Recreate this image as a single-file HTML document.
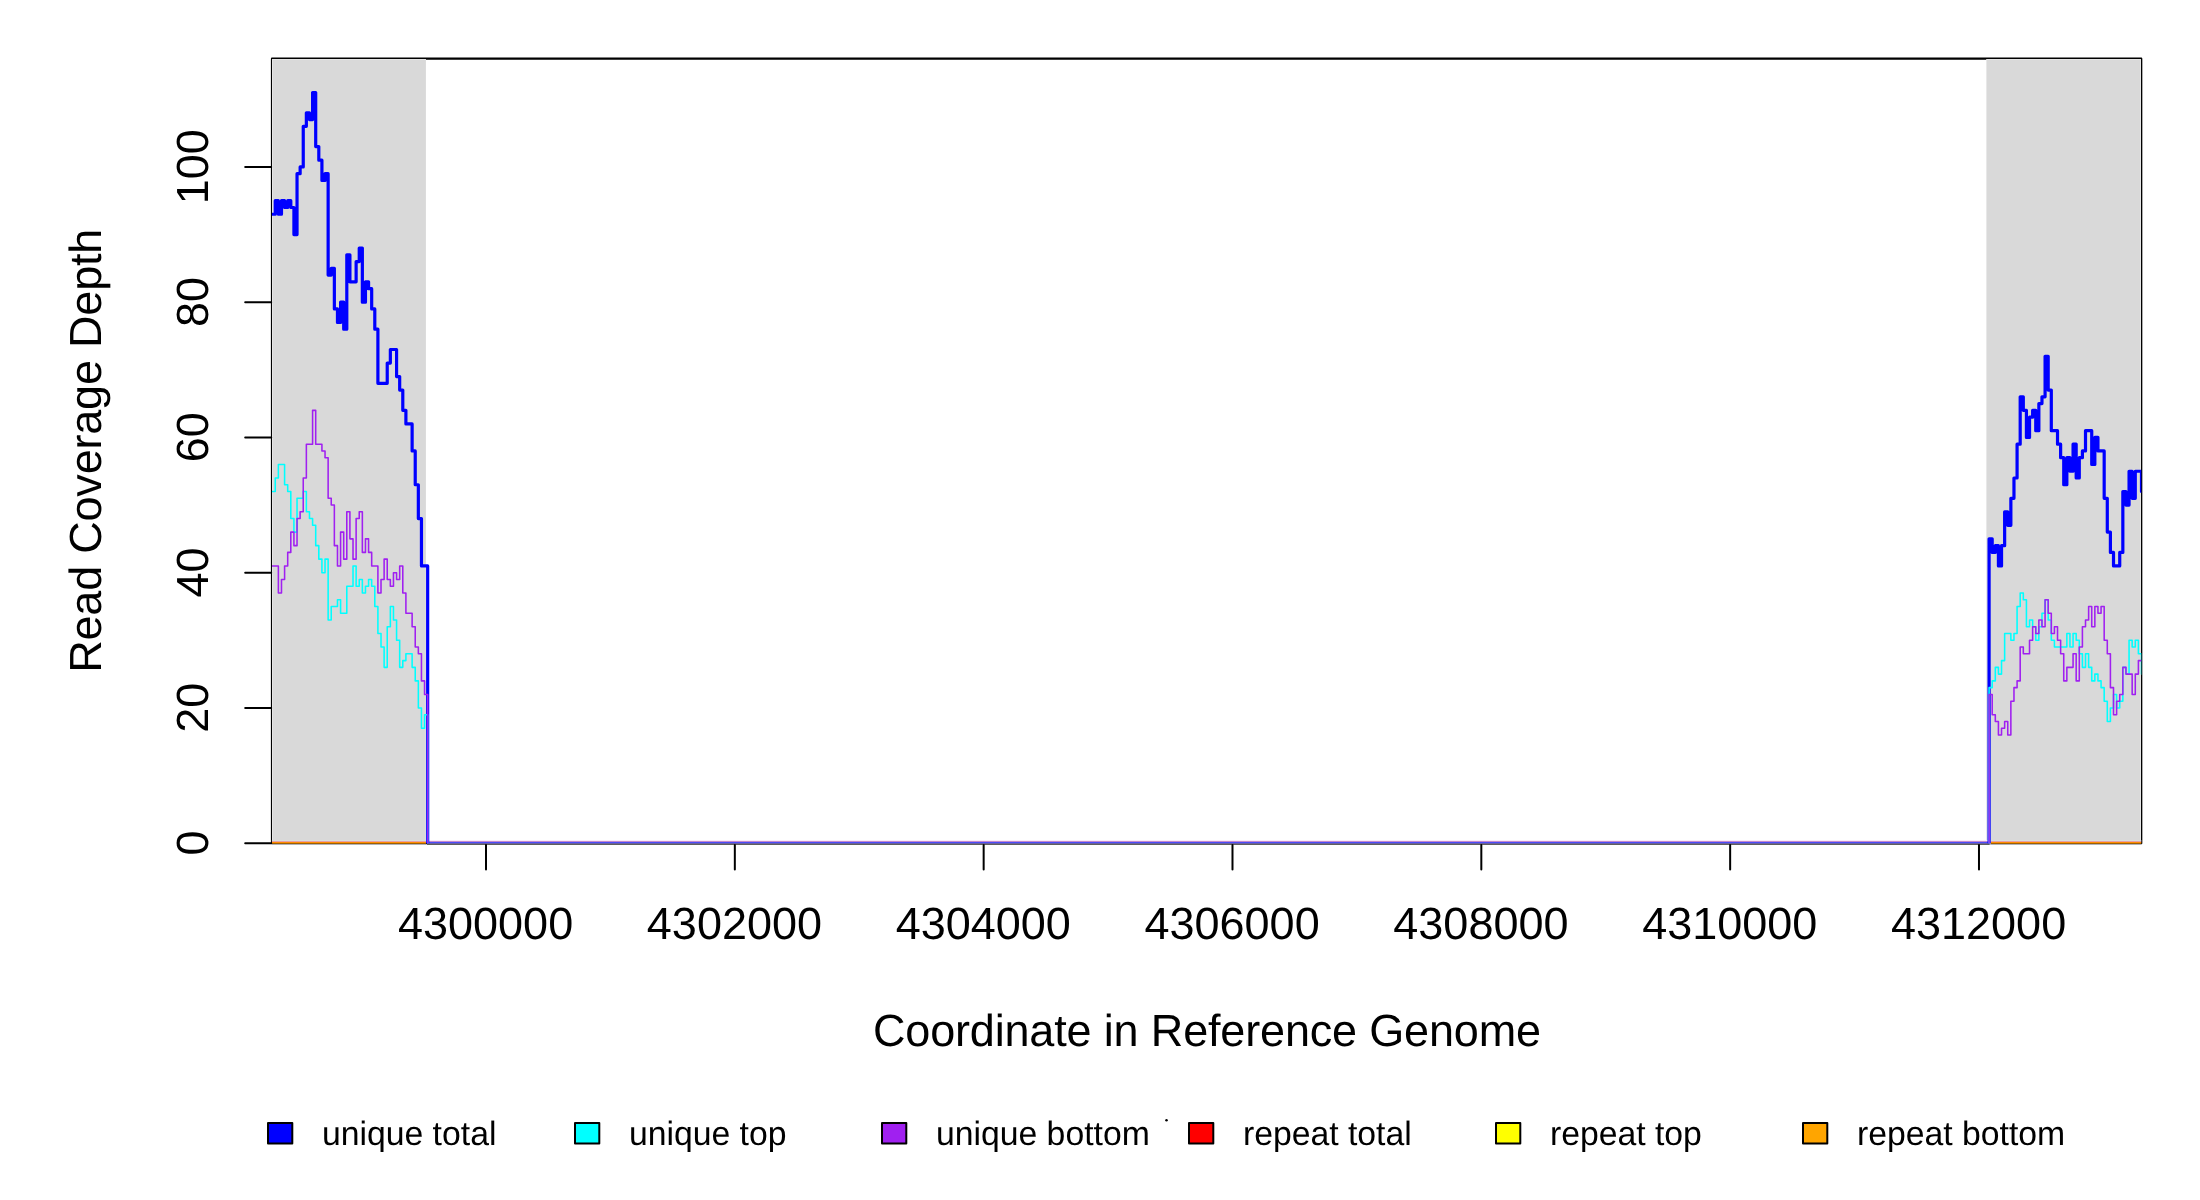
<!DOCTYPE html>
<html><head><meta charset="utf-8"><title>Read coverage</title>
<style>
html,body{margin:0;padding:0;background:#fff;}
body{width:2200px;height:1200px;overflow:hidden;}
svg{display:block;will-change:transform;}
text{font-family:"Liberation Sans",sans-serif;fill:#000;text-rendering:geometricPrecision;}
</style></head><body>
<svg width="2200" height="1200" viewBox="0 0 2200 1200">
<rect x="0" y="0" width="2200" height="1200" fill="#fff"/>
<rect x="271.95" y="58.65" width="1869.33" height="784.55" fill="none" stroke="#000" stroke-width="2.1" stroke-linejoin="round"/>
<rect x="272" y="59" width="153.9" height="785.4" fill="#D9D9D9"/>
<rect x="1986.4" y="59" width="154.6" height="785.4" fill="#D9D9D9"/>
<rect x="272" y="59" width="1" height="784" fill="#E5E5E5"/>
<rect x="2140" y="59" width="1" height="784" fill="#E5E5E5"/>
<rect x="272" y="59" width="153.9" height="1" fill="#E4E4E4"/>
<rect x="1986.4" y="59" width="154.6" height="1" fill="#E4E4E4"/>
<clipPath id="pc"><rect x="271.95" y="58.65" width="1869.33" height="784.55"/></clipPath>
<rect x="271.9" y="840" width="154.2" height="1" fill="rgb(215,222,222)"/>
<rect x="271.9" y="841" width="154.2" height="1" fill="rgb(230,160,165)"/>
<rect x="271.9" y="842" width="154.2" height="1" fill="rgb(255,140,0)"/>
<rect x="271.9" y="843" width="154.2" height="1" fill="rgb(160,95,0)"/>
<rect x="271.9" y="844" width="154.2" height="1" fill="rgb(175,178,185)"/>
<rect x="1990.6" y="840" width="150.7" height="1" fill="rgb(215,222,222)"/>
<rect x="1990.6" y="841" width="150.7" height="1" fill="rgb(230,160,165)"/>
<rect x="1990.6" y="842" width="150.7" height="1" fill="rgb(255,140,0)"/>
<rect x="1990.6" y="843" width="150.7" height="1" fill="rgb(160,95,0)"/>
<rect x="1990.6" y="844" width="150.7" height="1" fill="rgb(175,178,185)"/>
<rect x="427.0" y="840" width="1562.6" height="1" fill="rgb(250,236,248)"/>
<rect x="427.0" y="841" width="1562.6" height="1" fill="rgb(195,135,205)"/>
<rect x="427.0" y="842" width="1562.6" height="1" fill="rgb(75,75,248)"/>
<rect x="427.0" y="843" width="1562.6" height="1" fill="rgb(105,95,160)"/>
<rect x="427.0" y="844" width="1562.6" height="1" fill="rgb(95,95,92)"/>
<g clip-path="url(#pc)" fill="none" stroke-linejoin="round" stroke-linecap="round">
<path d="M272.15 214.24H275.26V200.72H278.37V214.24H281.48V200.72H284.59V207.48H287.70V200.72H290.81V207.48H293.92V234.53H297.03V173.66H300.14V166.90H303.25V126.32H306.36V112.80H309.47V119.56H312.59V92.51H315.70V146.61H318.81V160.14H321.92V180.43H325.03V173.66H328.14V275.11H331.25V268.35H334.36V308.92H337.47V322.45H340.58V302.16H343.69V329.21H346.80V254.82H349.91V281.87H353.02H356.13V261.58H359.24V248.06H362.35V302.16H365.46V281.87H368.57V288.63H371.68V308.92H374.79V329.21H377.90V383.32H381.01H384.12H387.23V363.03H390.35V349.50H393.46H396.57V376.55H399.68V390.08H402.79V410.37H405.90V423.89H409.01H412.12V450.95H415.23V484.76H418.34V518.58H421.45V565.92H424.56H427.67V845.20M1989.09 845.20V538.87H1992.20V552.39H1995.31V545.63H1998.42V565.92H2001.53V545.63H2004.64V511.81H2007.75V525.34H2010.86V498.29H2013.97V478.00H2017.08V444.18H2020.19V396.84H2023.31V410.37H2026.42V437.42H2029.53V417.13H2032.64V410.37H2035.75V430.66H2038.86V403.61H2041.97V396.84H2045.08V356.26H2048.19V390.08H2051.30V430.66H2054.41H2057.52V444.18H2060.63V457.71H2063.74V484.76H2066.85V457.71H2069.96V471.24H2073.07V444.18H2076.18V478.00H2079.29V457.71H2082.40V450.95H2085.51V430.66H2088.62H2091.73V464.47H2094.84V437.42H2097.95V450.95H2101.07H2104.18V498.29H2107.29V532.10H2110.40V552.39H2113.51V565.92H2116.62H2119.73V552.39H2122.84V491.52H2125.95V505.05H2129.06V471.24H2132.17V498.29H2135.28V471.24H2138.39H2141.50V491.52" stroke="#0000FF" stroke-width="3.2"/>
<path d="M272.15 491.52H275.26V478.00H278.37V464.47H281.48H284.59V484.76H287.70V491.52H290.81V518.58H293.92V532.10H297.03V498.29H300.14H303.25V491.52H306.36V511.81H309.47V518.58H312.59V525.34H315.70V545.63H318.81V559.15H321.92V572.68H325.03V559.15H328.14V620.02H331.25V606.50H334.36H337.47V599.73H340.58V613.26H343.69H346.80V586.21H349.91H353.02V565.92H356.13V586.21H359.24V579.44H362.35V592.97H365.46V586.21H368.57V579.44H371.68V586.21H374.79V606.50H377.90V633.55H381.01V647.07H384.12V667.36H387.23V626.78H390.35V606.50H393.46V620.02H396.57V640.31H399.68V667.36H402.79V660.60H405.90V653.84H409.01H412.12V667.36H415.23V680.89H418.34V707.94H421.45V728.23H424.56V714.70H427.67V845.20M1989.09 845.20V687.65H1992.20V680.89H1995.31V667.36H1998.42V674.12H2001.53V660.60H2004.64V633.55H2007.75H2010.86V640.31H2013.97V633.55H2017.08V606.50H2020.19V592.97H2023.31V599.73H2026.42V626.78H2029.53V620.02H2032.64V626.78H2035.75V640.31H2038.86V626.78H2041.97V613.26H2045.08V599.73H2048.19V620.02H2051.30V640.31H2054.41V647.07H2057.52H2060.63H2063.74H2066.85V633.55H2069.96V647.07H2073.07V633.55H2076.18V640.31H2079.29V653.84H2082.40V667.36H2085.51V653.84H2088.62V667.36H2091.73V680.89H2094.84V674.12H2097.95V680.89H2101.07V687.65H2104.18V701.18H2107.29V721.47H2110.40V707.94H2113.51V694.41H2116.62V707.94H2119.73V701.18H2122.84V667.36H2125.95V674.12H2129.06V640.31H2132.17V647.07H2135.28V640.31H2138.39V653.84H2141.50V674.12" stroke="#00FFFF" stroke-width="1.56"/>
<path d="M272.15 565.92H275.26H278.37V592.97H281.48V579.44H284.59V565.92H287.70V552.39H290.81V532.10H293.92V545.63H297.03V518.58H300.14V511.81H303.25V478.00H306.36V444.18H309.47H312.59V410.37H315.70V444.18H318.81H321.92V450.95H325.03V457.71H328.14V498.29H331.25V505.05H334.36V545.63H337.47V565.92H340.58V532.10H343.69V559.15H346.80V511.81H349.91V538.87H353.02V559.15H356.13V518.58H359.24V511.81H362.35V552.39H365.46V538.87H368.57V552.39H371.68V565.92H374.79H377.90V592.97H381.01V579.44H384.12V559.15H387.23V579.44H390.35V586.21H393.46V572.68H396.57V579.44H399.68V565.92H402.79V592.97H405.90V613.26H409.01H412.12V626.78H415.23V647.07H418.34V653.84H421.45V680.89H424.56V694.41H427.67V845.20M1989.09 845.20V694.41H1992.20V714.70H1995.31V721.47H1998.42V734.99H2001.53V728.23H2004.64V721.47H2007.75V734.99H2010.86V701.18H2013.97V687.65H2017.08V680.89H2020.19V647.07H2023.31V653.84H2026.42H2029.53V640.31H2032.64V626.78H2035.75V633.55H2038.86V620.02H2041.97V626.78H2045.08V599.73H2048.19V613.26H2051.30V633.55H2054.41V626.78H2057.52V640.31H2060.63V653.84H2063.74V680.89H2066.85V667.36H2069.96H2073.07V653.84H2076.18V680.89H2079.29V647.07H2082.40V626.78H2085.51V620.02H2088.62V606.50H2091.73V626.78H2094.84V606.50H2097.95V613.26H2101.07V606.50H2104.18V640.31H2107.29V653.84H2110.40V687.65H2113.51V714.70H2116.62V701.18H2119.73V694.41H2122.84V667.36H2125.95V674.12H2129.06H2132.17V694.41H2135.28V674.12H2138.39V660.60H2141.50" stroke="#A020F0" stroke-width="1.56"/>
</g>
<g stroke="#000" stroke-width="2" stroke-linecap="round" fill="none">
<path d="M245.2 843.20H271.2"/>
<path d="M245.2 707.94H271.2"/>
<path d="M245.2 572.68H271.2"/>
<path d="M245.2 437.42H271.2"/>
<path d="M245.2 302.16H271.2"/>
<path d="M245.2 166.90H271.2"/>
<path d="M486.00 845.0V869.6"/>
<path d="M734.83 845.0V869.6"/>
<path d="M983.66 845.0V869.6"/>
<path d="M1232.49 845.0V869.6"/>
<path d="M1481.32 845.0V869.6"/>
<path d="M1730.15 845.0V869.6"/>
<path d="M1978.98 845.0V869.6"/>
</g>
<text x="485.60" y="939" font-size="45" text-anchor="middle">4300000</text>
<text x="734.43" y="939" font-size="45" text-anchor="middle">4302000</text>
<text x="983.26" y="939" font-size="45" text-anchor="middle">4304000</text>
<text x="1232.09" y="939" font-size="45" text-anchor="middle">4306000</text>
<text x="1480.92" y="939" font-size="45" text-anchor="middle">4308000</text>
<text x="1729.75" y="939" font-size="45" text-anchor="middle">4310000</text>
<text x="1978.58" y="939" font-size="45" text-anchor="middle">4312000</text>
<text transform="translate(208,843.10) rotate(-90)" font-size="45" text-anchor="middle">0</text>
<text transform="translate(208,707.84) rotate(-90)" font-size="45" text-anchor="middle">20</text>
<text transform="translate(208,572.58) rotate(-90)" font-size="45" text-anchor="middle">40</text>
<text transform="translate(208,437.32) rotate(-90)" font-size="45" text-anchor="middle">60</text>
<text transform="translate(208,302.06) rotate(-90)" font-size="45" text-anchor="middle">80</text>
<text transform="translate(208,166.80) rotate(-90)" font-size="45" text-anchor="middle">100</text>
<text x="1207" y="1046.0" font-size="45" text-anchor="middle" textLength="668.1" lengthAdjust="spacing">Coordinate in Reference Genome</text>
<text transform="translate(101.1,450.75) rotate(-90)" font-size="45" text-anchor="middle" textLength="444.1" lengthAdjust="spacing">Read Coverage Depth</text>
<rect x="268.00" y="1123.0" width="24.3" height="20.4" fill="#0000FF" stroke="#000" stroke-width="2" stroke-linejoin="round"/>
<text x="321.9" y="1145.0" font-size="33.75">unique total</text>
<rect x="575.00" y="1123.0" width="24.3" height="20.4" fill="#00FFFF" stroke="#000" stroke-width="2" stroke-linejoin="round"/>
<text x="628.9" y="1145.0" font-size="33.75">unique top</text>
<rect x="882.00" y="1123.0" width="24.3" height="20.4" fill="#A020F0" stroke="#000" stroke-width="2" stroke-linejoin="round"/>
<text x="935.9" y="1145.0" font-size="33.75">unique bottom</text>
<rect x="1189.00" y="1123.0" width="24.3" height="20.4" fill="#FF0000" stroke="#000" stroke-width="2" stroke-linejoin="round"/>
<text x="1242.9" y="1145.0" font-size="33.75">repeat total</text>
<rect x="1496.00" y="1123.0" width="24.3" height="20.4" fill="#FFFF00" stroke="#000" stroke-width="2" stroke-linejoin="round"/>
<text x="1549.9" y="1145.0" font-size="33.75">repeat top</text>
<rect x="1803.00" y="1123.0" width="24.3" height="20.4" fill="#FFA500" stroke="#000" stroke-width="2" stroke-linejoin="round"/>
<text x="1856.9" y="1145.0" font-size="33.75">repeat bottom</text>
<circle cx="1166.5" cy="1120.3" r="1.25" fill="#000"/>
</svg>
</body></html>
